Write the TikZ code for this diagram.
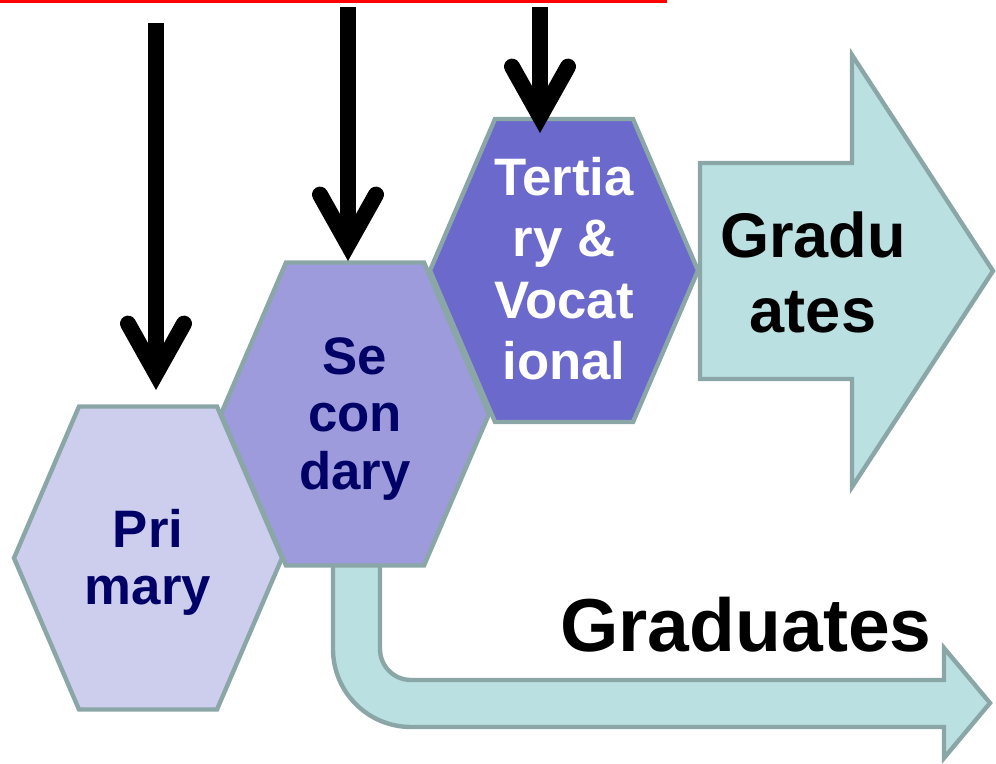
\documentclass[tikz,border=0pt]{standalone}
\usepackage{fontspec}
\setmainfont{Liberation Sans}
\usetikzlibrary{arrows.meta}

\definecolor{EdgeGray}{RGB}{139,166,166}
\definecolor{PriFill}{RGB}{205,205,238}
\definecolor{SecFill}{RGB}{157,155,220}
\definecolor{TerFill}{RGB}{107,106,204}
\definecolor{GradFill}{RGB}{186,224,226}
\definecolor{NavyText}{RGB}{0,0,102}

\begin{document}
\begin{tikzpicture}[
        %Environment Config
        font=\bfseries,
        BlackArrow/.style={%Style for the inflow arrows
            -{Straight Barb[line cap=round,line join=miter,length=1.0cm,width=1.12cm]},
            black,
            line width=0.32cm
        },
        HexText/.style={%Style for the hexagon labels
            align=center,
            inner sep=0pt,
            text=#1,
            font=\fontsize{30}{32.5}\selectfont\bfseries
        },
        GradShape/.style={%Style for the graduate arrows
            fill=GradFill,
            draw=EdgeGray,
            line width=2.5pt,
            line join=miter
        }
    ]
    \def\MyHexagon(#1)#2#3{%Customized hexagon
        \begin{scope}[shift={(#1)}]
            %Component Shape
            \draw[fill=#3, draw=EdgeGray, line width=2.5pt, line join=miter]
                (-2.68,0) -- (-1.38,3.03) -- (1.38,3.03) -- (2.68,0)
                -- (1.38,-3.03) -- (-1.38,-3.03) -- cycle;
            \coordinate (#2 C) at (0,0);
        \end{scope}
    }

    % frame
    \useasboundingbox (0,0) rectangle (19.92,-15.28);
    \draw[red, line width=0.06cm] (0,-0.03) -- (13.34,-0.03);

    %%%%%%%%%%%%%%%%%%%%%%%%%%%%%%%%%%%%%%%%%%%%%%%%%%%%%%%%%%%%%%%%%%%%%%%%%%%%
    % GRADUATES LEAVING AFTER SECONDARY
    %%%%%%%%%%%%%%%%%%%%%%%%%%%%%%%%%%%%%%%%%%%%%%%%%%%%%%%%%%%%%%%%%%%%%%%%%%%%
    \draw[GradShape] (6.66,-11.0) -- (6.66,-12.98)
        arc[start angle=180, end angle=270, radius=1.56]
        -- (18.88,-14.54) -- (18.88,-15.16) -- (19.8,-14.06) -- (18.88,-12.96)
        -- (18.88,-13.6) -- (8.22,-13.6)
        arc[start angle=270, end angle=180, radius=0.62]
        -- (7.6,-11.0) -- cycle;
    \node[font=\fontsize{42.7}{48}\selectfont\bfseries, inner sep=0pt] (LGRAD) at (14.92,-12.5) {Graduates};

    %%%%%%%%%%%%%%%%%%%%%%%%%%%%%%%%%%%%%%%%%%%%%%%%%%%%%%%%%%%%%%%%%%%%%%%%%%%%
    % EDUCATION LEVELS
    %%%%%%%%%%%%%%%%%%%%%%%%%%%%%%%%%%%%%%%%%%%%%%%%%%%%%%%%%%%%%%%%%%%%%%%%%%%%
    \MyHexagon(2.96,-11.16){PRI}{PriFill}
    \MyHexagon(7.1,-8.28){SEC}{SecFill}
    \MyHexagon(11.28,-5.41){TER}{TerFill}

    \node[HexText=NavyText] (PRI) at ([yshift=-0.08cm]PRI C) {Pri\\mary};
    \node[HexText=NavyText] (SEC) at ([yshift=-0.1cm]SEC C) {Se\\con\\dary};
    \node[HexText=white, font=\fontsize{30}{35}\selectfont\bfseries] (TER) at ([yshift=0.04cm]TER C) {Tertia\\ry \&\\Vocat\\ional};

    % graduates on the right
    \draw[GradShape] (14.0,-3.26) -- (17.04,-3.26) -- (17.04,-1.1) -- (19.86,-5.42)
        -- (17.04,-9.74) -- (17.04,-7.58) -- (14.0,-7.58) -- cycle;
    \node[align=center, inner sep=0pt, font=\fontsize{35.9}{42.7}\selectfont\bfseries] (RGRAD) at (16.26,-5.44) {Gradu\\ates};

    %%%%%%%%%%%%%%%%%%%%%%%%%%%%%%%%%%%%%%%%%%%%%%%%%%%%%%%%%%%%%%%%%%%%%%%%%%%%
    % INFLOW ARROWS
    %%%%%%%%%%%%%%%%%%%%%%%%%%%%%%%%%%%%%%%%%%%%%%%%%%%%%%%%%%%%%%%%%%%%%%%%%%%%
    \coordinate (A1 start) at (3.12,-0.46);
    \coordinate (A1 end) at (3.12,-7.8);
    \coordinate (A2 start) at (6.96,-0.14);
    \coordinate (A2 end) at (6.96,-5.22);
    \coordinate (A3 start) at (10.8,-0.14);
    \coordinate (A3 end) at (10.8,-2.66);
    \draw[BlackArrow] (A1 start) -- (A1 end);
    \draw[BlackArrow] (A2 start) -- (A2 end);
    \draw[BlackArrow] (A3 start) -- (A3 end);
\end{tikzpicture}
\end{document}
